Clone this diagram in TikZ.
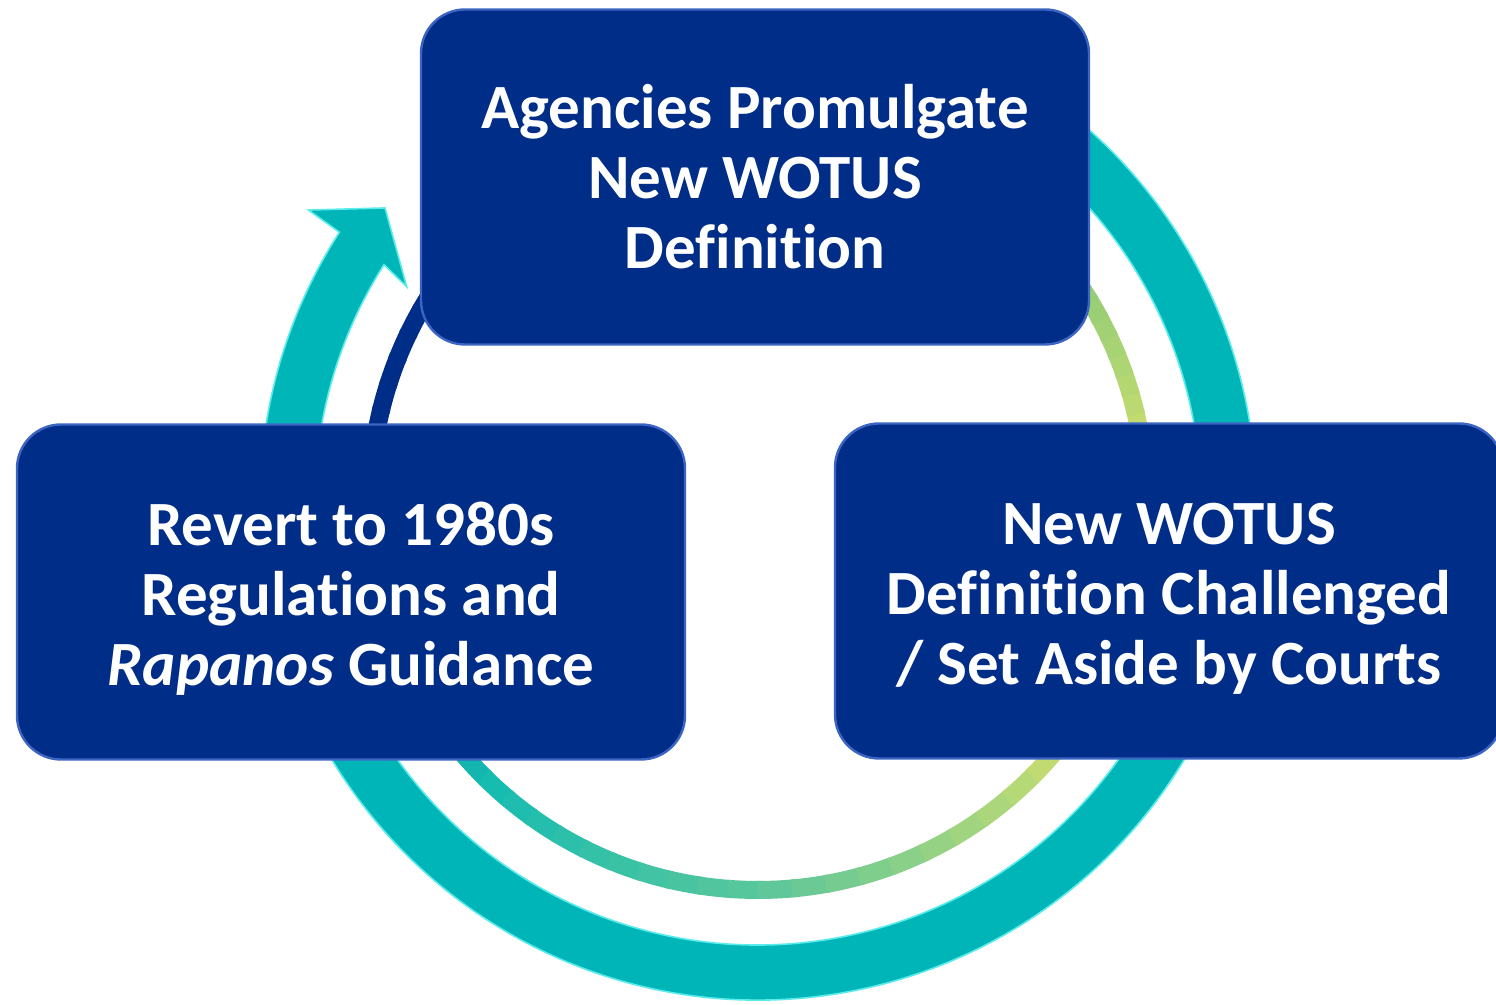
\documentclass[tikz,border=0pt]{standalone}
\usepackage{fontspec}
\setmainfont{Carlito}[Ligatures=NoCommon]
\usepackage{tikz}
\usetikzlibrary{positioning}
\usepackage{xcolor}

\definecolor{boxblue}{RGB}{0,45,135}
\definecolor{boxedge}{RGB}{60,100,195}
\definecolor{cycleteal}{RGB}{0,181,184}
\definecolor{cycleglow}{RGB}{90,235,235}
\definecolor{ringblue}{RGB}{0,45,135}
\definecolor{ringteal}{RGB}{20,188,178}
\definecolor{ringmid}{RGB}{90,198,155}
\definecolor{ringlime}{RGB}{198,220,112}
\definecolor{ringgreen}{RGB}{130,200,120}

\newcommand{\toppad}{\rule{0pt}{28pt}}

\tikzset{
	stagebox/.style={draw=boxedge, line width=1.2pt, fill=boxblue,
		rounded corners=22pt, minimum width=334pt, minimum height=167.5pt,
		inner sep=0pt, align=center, text=white,
		font=\bfseries\fontsize{31.5}{35}\selectfont}
}

\begin{document}
\begin{tikzpicture}[x=0.5pt, y=0.5pt]

	\useasboundingbox (0,0) rectangle (1496,1005);

	\coordinate (ctr) at (758,503);

	\begin{scope}[shift={(ctr)}]
		\filldraw[fill=cycleteal, draw=cycleglow, line width=0.8pt]
			(65:498) arc[start angle=65, end angle=-212.8, radius=498]
			-- (-213:536) -- (-218.25:475) -- (-211.5:412) -- (-212.4:443)
			arc[start angle=-212.4, end angle=65, radius=443] -- cycle;

		\foreach \sa/\ea/\ca/\cb in {130/170/ringblue/ringblue, 170/225/ringblue/ringteal,
			225/270/ringteal/ringmid, 270/320/ringmid/ringlime, 320/370/ringlime/ringlime,
			370/400/ringlime/ringgreen, 400/490/ringgreen/ringblue}{
			\foreach \i in {0,...,9}{
				\pgfmathsetmacro\angA{\sa+(\ea-\sa)*\i/10}
				\pgfmathsetmacro\angB{\sa+(\ea-\sa)*(\i+1)/10+0.6}
				\pgfmathtruncatemacro\mixp{95-\i*10}
				\colorlet{segcol}{\ca!\mixp!\cb}
				\draw[segcol, line width=9pt] (\angA:388) arc[start angle=\angA, end angle=\angB, radius=388];
			}
		}
	\end{scope}

	\node[stagebox] (agencies) at (755,828) {Agencies Promulgate\\New WOTUS\\Definition};
	\node[stagebox] (revert) at (351,413) {\toppad Revert to 1980s\\Regulations and\\\textit{Rapanos} Guidance};
	\node[stagebox] (challenged) at (1169,414) {\toppad New WOTUS\\Definition Challenged\\/ Set Aside by Courts};

\end{tikzpicture}
\end{document}
